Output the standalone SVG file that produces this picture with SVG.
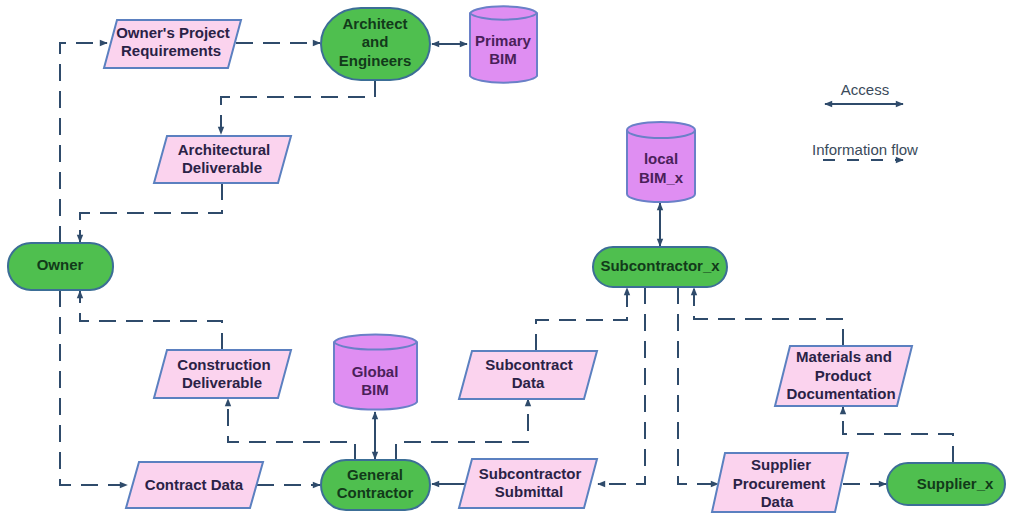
<svg xmlns="http://www.w3.org/2000/svg" width="1011" height="513" viewBox="0 0 1011 513">
<defs>
<marker id="ah" viewBox="0 0 10 10" refX="9" refY="5" markerWidth="9" markerHeight="8" markerUnits="userSpaceOnUse" orient="auto-start-reverse">
<path d="M0,1 L10,5 L0,9 Z" fill="#2f4b6b"/>
</marker>
</defs>
<style>
.t{font-family:"Liberation Sans",Arial,sans-serif;font-weight:bold;font-size:15px;fill:#2a2246;text-anchor:middle}
.tg{font-family:"Liberation Sans",Arial,sans-serif;font-weight:bold;font-size:15px;fill:#123a1a;text-anchor:middle}
.tc{font-family:"Liberation Sans",Arial,sans-serif;font-weight:bold;font-size:15px;fill:#4a1f5a;text-anchor:middle}
.lg{font-family:"Liberation Sans",Arial,sans-serif;font-size:15px;fill:#3a4a5a;text-anchor:middle}
.term{fill:#4fbf4f;stroke:#3c6e96;stroke-width:2}
.data{fill:#fbd3ee;stroke:#5b80c0;stroke-width:2}
.cyl{fill:#df8ef2;stroke:#6a80c8;stroke-width:2}
.flow{fill:none;stroke:#2f4b6b;stroke-width:2;stroke-dasharray:17 10}
.acc{fill:none;stroke:#2f4b6b;stroke-width:2}
</style>
<rect width="1011" height="513" fill="#ffffff"/>
<g id="connectors">
<path class="flow" d="M60,243 V43 H107" marker-end="url(#ah)"/>
<path class="flow" d="M236,43 H320" marker-end="url(#ah)"/>
<path class="flow" d="M375,80 V97 H221 V134" marker-end="url(#ah)"/>
<path class="flow" d="M222,183 V213 H80 V242" marker-end="url(#ah)"/>
<path class="flow" d="M60,290 V485 H127" marker-end="url(#ah)"/>
<path class="flow" d="M257,485 H320" marker-end="url(#ah)"/>
<path class="flow" d="M222,350 V321 H80 V291" marker-end="url(#ah)"/>
<path class="flow" d="M355,461 V442 H228 V399" marker-end="url(#ah)"/>
<path class="flow" d="M396,461 V442 H528 V399" marker-end="url(#ah)"/>
<path class="flow" d="M536,351 V320 H627 V288" marker-end="url(#ah)"/>
<path class="flow" d="M645,287 V484 H598" marker-end="url(#ah)"/>
<path class="acc" d="M465,484 H432" marker-end="url(#ah)"/>
<path class="flow" d="M678,287 V484 H718" marker-end="url(#ah)"/>
<path class="flow" d="M843,484 H886" marker-end="url(#ah)"/>
<path class="flow" d="M953,463 V434 H843 V407" marker-end="url(#ah)"/>
<path class="flow" d="M843,346 V319 H694 V288" marker-end="url(#ah)"/>
<path class="acc" d="M432,44 H467" marker-start="url(#ah)" marker-end="url(#ah)"/>
<path class="acc" d="M375,412 V459" marker-start="url(#ah)" marker-end="url(#ah)"/>
<path class="acc" d="M660,203 V246" marker-start="url(#ah)" marker-end="url(#ah)"/>
<path class="acc" d="M825,104 H903" marker-start="url(#ah)" marker-end="url(#ah)"/>
<path class="flow" d="M823,160 H903" style="stroke-dasharray:12 12" marker-end="url(#ah)"/>
</g>
<g id="legend">
<text class="lg" x="865" y="95">Access</text>
<text class="lg" x="865" y="155">Information flow</text>
</g>
<g id="owners-project-requirements">
<polygon class="data" points="117,20 241,20 228,68 104,68"/>
<text class="t" x="173" y="38">Owner's Project</text>
<text class="t" x="171" y="56">Requirements</text>
</g>
<g id="architect-engineers">
<rect class="term" x="321" y="8" width="109" height="72" rx="40" ry="36"/>
<text class="tg" x="375" y="29">Architect</text>
<text class="tg" x="375" y="47">and</text>
<text class="tg" x="375" y="66">Engineers</text>
</g>
<g id="primary-bim">
<path class="cyl" d="M470,13 V76 A34,8 0 0 0 537,76 V13 A34,8 0 0 0 470,13 Z"/>
<path class="cyl" d="M470,13 A34,8 0 0 0 537,13" fill="none"/>
<text class="tc" x="503" y="46">Primary</text>
<text class="tc" x="503" y="64">BIM</text>
</g>
<g id="architectural-deliverable">
<polygon class="data" points="167,136 291,136 278,183 154,183"/>
<text class="t" x="224" y="155">Architectural</text>
<text class="t" x="222" y="173">Deliverable</text>
</g>
<g id="owner">
<rect class="term" x="8" y="243" width="105" height="47" rx="23" ry="23"/>
<text class="tg" x="60" y="270">Owner</text>
</g>
<g id="construction-deliverable">
<polygon class="data" points="167,350 291,350 278,398 154,398"/>
<text class="t" x="224" y="370">Construction</text>
<text class="t" x="222" y="388">Deliverable</text>
</g>
<g id="contract-data">
<polygon class="data" points="139,462 263,462 250,508 126,508"/>
<text class="t" x="194" y="490">Contract Data</text>
</g>
<g id="general-contractor">
<rect class="term" x="321" y="460" width="109" height="50" rx="25" ry="25"/>
<text class="tg" x="375" y="480">General</text>
<text class="tg" x="375" y="498">Contractor</text>
</g>
<g id="global-bim">
<path class="cyl" d="M334,342 V402 A42,9 0 0 0 417,402 V342 A42,9 0 0 0 334,342 Z"/>
<path class="cyl" d="M334,342 A42,9 0 0 0 417,342" fill="none"/>
<text class="tc" x="375" y="377">Global</text>
<text class="tc" x="375" y="395">BIM</text>
</g>
<g id="subcontract-data">
<polygon class="data" points="472,351 597,351 584,399 459,399"/>
<text class="t" x="529" y="370">Subcontract</text>
<text class="t" x="528" y="388">Data</text>
</g>
<g id="subcontractor-submittal">
<polygon class="data" points="472,459 597,459 584,508 459,508"/>
<text class="t" x="530" y="479">Subcontractor</text>
<text class="t" x="529" y="497">Submittal</text>
</g>
<g id="local-bim">
<path class="cyl" d="M627,130 V194 A34,8 0 0 0 695,194 V130 A34,8 0 0 0 627,130 Z"/>
<path class="cyl" d="M627,130 A34,8 0 0 0 695,130" fill="none"/>
<text class="tc" x="661" y="164">local</text>
<text class="tc" x="661" y="183">BIM_x</text>
</g>
<g id="subcontractor-x">
<rect class="term" x="593" y="247" width="134" height="40" rx="20" ry="20"/>
<text class="tg" x="660" y="271">Subcontractor_x</text>
</g>
<g id="materials-product-documentation">
<polygon class="data" points="790,346 912,346 897,406 775,406"/>
<text class="t" x="844" y="362">Materials and</text>
<text class="t" x="843" y="381">Product</text>
<text class="t" x="841" y="399">Documentation</text>
</g>
<g id="supplier-procurement-data">
<polygon class="data" points="725,453 848,453 835,512 712,512"/>
<text class="t" x="781" y="470">Supplier</text>
<text class="t" x="779" y="489">Procurement</text>
<text class="t" x="777" y="507">Data</text>
</g>
<g id="supplier-x">
<rect class="term" x="887" y="463" width="118" height="42" rx="21" ry="21"/>
<text class="tg" x="955" y="489">Supplier_x</text>
</g>
</svg>
